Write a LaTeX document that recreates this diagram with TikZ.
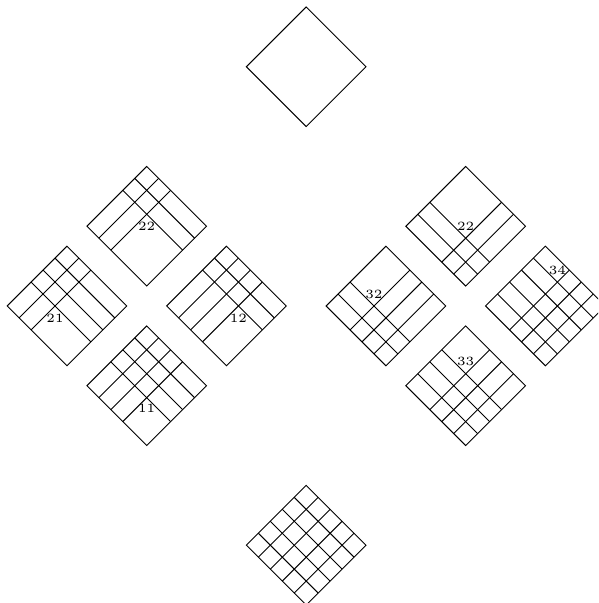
\documentclass[tikz,border=0pt]{standalone}
\usetikzlibrary{calc}
\tikzset{
  panel/.style={draw=black,line width=0.4pt,line join=miter},
  gridline/.style={draw=black,line width=0.4pt},
  tag/.style={inner sep=0pt,font=\fontsize{5.4}{6}\selectfont}
}
% #1 name, #2 centre x, #3 centre y, #4 u-lines, #5 v-lines
\newcommand{\younggrid}[5]{%
  \coordinate (#1) at (#2+.008,#3);
  \path[panel] ($(#1)+(0,.9)$) -- ($(#1)+(.9,0)$) -- ($(#1)+(0,-.9)$) -- ($(#1)+(-.9,0)$) -- cycle;
  \foreach \k in {#4}{%
    \path[gridline] ($(#1)+(0,.9)+(.18*\k,-.18*\k)$) -- ($(#1)+(-.9,0)+(.18*\k,-.18*\k)$);}
  \foreach \k in {#5}{%
    \path[gridline] ($(#1)+(0,.9)+(-.18*\k,-.18*\k)$) -- ($(#1)+(.9,0)+(-.18*\k,-.18*\k)$);}
}
\begin{document}
\begin{tikzpicture}
\useasboundingbox (0,0) rectangle (9,9.075);
\clip (0,0) rectangle (9,9.075);
\younggrid{top}{4.6}{8.07}{}{}
\younggrid{lb}{2.2}{5.67}{1,2}{1,2}
\younggrid{lc}{1.0}{4.47}{1,2}{1,2,3}
\younggrid{ld}{3.4}{4.47}{1,2,3}{1,2}
\younggrid{le}{2.2}{3.27}{1,2,3}{1,2,3}
\younggrid{rb}{7.0}{5.67}{3,4}{3,4}
\younggrid{rc}{5.8}{4.47}{2,3,4}{3,4}
\younggrid{rd}{8.2}{4.47}{2,3,4}{1,2,3,4}
\younggrid{re}{7.0}{3.27}{2,3,4}{2,3,4}
\younggrid{bot}{4.6}{0.87}{1,2,3,4}{1,2,3,4}
\node[tag] (tlb) at ($(lb)+(0,0)$) {22};
\node[tag] (tlc) at ($(lc)+(-.18,-.18)$) {21};
\node[tag] (tld) at ($(ld)+(.18,-.18)$) {12};
\node[tag] (tle) at ($(le)+(0,-.345)$) {11};
\node[tag] (trb) at ($(rb)+(0,0)$) {22};
\node[tag] (trc) at ($(rc)+(-.18,.18)$) {32};
\node[tag] (trd) at ($(rd)+(.18,.54)$) {34};
\node[tag] (tre) at ($(re)+(0,.36)$) {33};
\end{tikzpicture}
\end{document}
